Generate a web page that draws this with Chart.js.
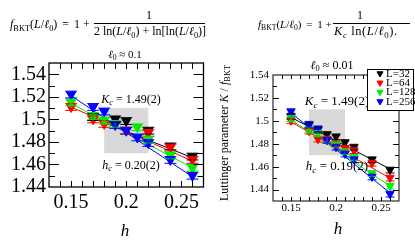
<!DOCTYPE html>
<html>
<head>
<meta charset="utf-8">
<script src="https://cdn.jsdelivr.net/npm/chart.js@4.4.0/dist/chart.umd.min.js"></script>
<style>
  body { margin: 0; background: #fff; width: 415px; height: 243px; overflow: hidden; position: relative; font-family: "Liberation Serif", serif; }
  canvas { position: absolute; top: 0; }
  #cl { left: 0; }
  #cr { left: 210px; }
  .t { position: absolute; white-space: nowrap; font-size: 12px; line-height: 1; transform: translate(-50%, -50%); }
  .l { transform: translate(0, -50%); }
  .bar { position: absolute; height: 0; border-top: 0.8px solid #000; }
  sub { font-size: 70%; vertical-align: -0.35em; line-height: 0; }
  .sp { display: inline-block; width: 2px; }
</style>
</head>
<body>
<canvas id="cl" width="210" height="243"></canvas>
<canvas id="cr" width="205" height="243"></canvas>

<div class="t l" style="left:10px;top:24px"><i>f</i><sub>BKT</sub>(<i>L</i>/<i>ℓ</i><sub>0</sub>)<span class="sp"></span> = <span class="sp"></span>1 +</div>
<div class="t" style="left:149px;top:15px">1</div>
<div class="bar" style="left:94px;top:23px;width:111px"></div>
<div class="t" style="left:150px;top:31px">2 ln(<i>L</i>/<i>ℓ</i><sub>0</sub>) + ln[ln(<i>L</i>/<i>ℓ</i><sub>0</sub>)]</div>

<div class="t l" style="left:258px;top:24px;font-size:11px"><i>f</i><sub>BKT</sub>(<i>L</i>/<i>ℓ</i><sub>0</sub>)<span class="sp"></span> = <span class="sp"></span>1 +</div>
<div class="t" style="left:360px;top:15px">1</div>
<div class="bar" style="left:333px;top:23px;width:77px"></div>
<div class="t l" style="left:334px;top:31px;font-size:12.5px;letter-spacing:0.6px"><i>K</i><sub><i>c</i></sub> ln(<i>L</i>/<i>ℓ</i><sub>0</sub>).</div>

<script>
// series
const SERIES = ["L=32", "L=64", "L=128", "L=256"];
const COLORS = ["#000000", "#ff0000", "#00ee00", "#0000ff"];

// left panel, l0 ~ 0.1
const leftH32 = [0.17, 0.19, 0.2, 0.22, 0.24, 0.26];
const leftK32 = [1.502, 1.500, 1.4985, 1.490, 1.476, 1.467];
const leftH64 = [0.15, 0.17, 0.18, 0.2, 0.22, 0.24, 0.26];
const leftK64 = [1.511, 1.500, 1.496, 1.490, 1.488, 1.475, 1.464];
const leftH128 = [0.15, 0.17, 0.18, 0.19, 0.21, 0.22, 0.24, 0.26];
const leftK128 = [1.515, 1.503, 1.499, 1.496, 1.493, 1.482, 1.468, 1.457];
const leftH256 = [0.15, 0.17, 0.18, 0.19, 0.2, 0.21, 0.22, 0.24, 0.26];
const leftK256 = [1.522, 1.511, 1.507, 1.495, 1.490, 1.484, 1.479, 1.464, 1.450];
// fit lines (start h, end h) and (start K, end K)
const leftFitH = [[0.165, 0.26], [0.15, 0.26], [0.15, 0.26], [0.15, 0.26]];
const leftFitK = [[1.503, 1.466], [1.511, 1.463], [1.514, 1.457], [1.521, 1.449]];

// right panel, l0 ~ 0.01
const rightH = [0.15, 0.17, 0.18, 0.19, 0.2, 0.21, 0.22, 0.24, 0.26];
const rightK32 = [1.504, 1.496, 1.492, 1.488, 1.486, 1.481, 1.477, 1.466, 1.457];
const rightK64 = [1.500, 1.491, 1.484, 1.484, 1.480, 1.476, 1.474, 1.463, 1.450];
const rightK128 = [1.502, 1.492, 1.489, 1.483, 1.479, 1.473, 1.468, 1.454, 1.443];
const rightK256 = [1.508, 1.497, 1.493, 1.483, 1.477, 1.471, 1.466, 1.451, 1.436];
const rightFitH = [[0.15, 0.26], [0.15, 0.26], [0.15, 0.26], [0.15, 0.26]];
const rightFitK = [[1.503, 1.458], [1.499, 1.450], [1.501, 1.443], [1.507, 1.437]];

// ticks
const xTicks = [0.15, 0.2, 0.25];
const xLabels = ["0.15", "0.2", "0.25"];
const yTicks = [1.44, 1.46, 1.48, 1.5, 1.52, 1.54];
const yLabels = ["1.44", "1.46", "1.48", "1.5", "1.52", "1.54"];

const FONT = '"Liberation Serif", serif';

// draw text made of runs: [text, style] style: "" roman, "i" italic, "s" sub roman, "si" sub italic
function drawRuns(ctx, parts, x, y, size, align) {
  const fontOf = st => (st.includes("i") ? "italic " : "") + (st.includes("s") ? size * 0.7 : size) + "px " + FONT;
  let w = 0;
  parts.forEach(([t, st]) => { ctx.font = fontOf(st); w += ctx.measureText(t).width; });
  let cx = align === "center" ? x - w / 2 : align === "right" ? x - w : x;
  ctx.textAlign = "left";
  ctx.textBaseline = "middle";
  parts.forEach(([t, st]) => {
    ctx.font = fontOf(st);
    ctx.fillText(t, cx, st.includes("s") ? y + size * 0.25 : y);
    cx += ctx.measureText(t).width;
  });
}

function downTri(ctx, x, y, r, color) {
  ctx.beginPath();
  ctx.moveTo(x, y + r);
  ctx.lineTo(x - r * 0.87, y - r * 0.5);
  ctx.lineTo(x + r * 0.87, y - r * 0.5);
  ctx.closePath();
  ctx.fillStyle = color;
  ctx.strokeStyle = color;
  ctx.fill();
  ctx.stroke();
}

function panelPlugin(p) {
  return {
    id: "panel",
    beforeDatasetsDraw(chart) {
      const { ctx, scales: { x, y } } = chart;
      const x0 = x.getPixelForValue(p.box[0]), x1 = x.getPixelForValue(p.box[1]);
      const y0 = y.getPixelForValue(p.box[3]), y1 = y.getPixelForValue(p.box[2]);
      ctx.save();
      ctx.fillStyle = "#d9d9d9";
      ctx.fillRect(x0, y0, x1 - x0, y1 - y0);
      ctx.restore();
    },
    afterDatasetsDraw(chart) {
      const { ctx, chartArea: a, scales: { x, y } } = chart;
      ctx.save();
      // error bars
      chart.data.datasets.forEach((ds, i) => {
        if (!ds.isData) return;
        const meta = chart.getDatasetMeta(i);
        ctx.strokeStyle = ds.borderColor;
        ctx.lineWidth = 1;
        meta.data.forEach((el, j) => {
          const v = ds.data[j].y;
          const yt = y.getPixelForValue(v + p.err), yb = y.getPixelForValue(v - p.err);
          ctx.beginPath();
          ctx.moveTo(el.x, yt); ctx.lineTo(el.x, yb);
          ctx.moveTo(el.x - p.cap, yt); ctx.lineTo(el.x + p.cap, yt);
          ctx.moveTo(el.x - p.cap, yb); ctx.lineTo(el.x + p.cap, yb);
          ctx.stroke();
        });
      });
      // frame
      ctx.strokeStyle = "#000";
      ctx.lineWidth = p.frameW;
      ctx.strokeRect(a.left, a.top, a.right - a.left, a.bottom - a.top);
      // ticks, inward on all sides
      ctx.lineWidth = 1;
      ctx.beginPath();
      for (let v = x.min + 0.01; v < x.max - 0.001; v += 0.01) {
        const px = Math.round(x.getPixelForValue(v)) + 0.5;
        ctx.moveTo(px, a.bottom); ctx.lineTo(px, a.bottom - p.tx);
        ctx.moveTo(px, a.top); ctx.lineTo(px, a.top + p.tx);
      }
      for (let v = Math.ceil(y.min * 100 + 0.01) / 100; v < y.max - 0.001; v += 0.01) {
        const py = Math.round(y.getPixelForValue(v)) + 0.5;
        const major = yTicks.some(t => Math.abs(t - v) < 0.001);
        const len = major ? p.tyMaj : p.tyMin;
        ctx.moveTo(a.left, py); ctx.lineTo(a.left + len, py);
        ctx.moveTo(a.right, py); ctx.lineTo(a.right - len, py);
      }
      ctx.stroke();
      // tick labels
      ctx.fillStyle = "#000";
      ctx.font = p.tickFont + "px " + FONT;
      ctx.textBaseline = "middle";
      ctx.textAlign = "center";
      xTicks.forEach((t, i) => ctx.fillText(xLabels[i], x.getPixelForValue(t), a.bottom + p.xLabOff));
      ctx.textAlign = "right";
      yTicks.forEach((t, i) => ctx.fillText(yLabels[i], a.left - p.yLabOff, y.getPixelForValue(t)));
      // titles and notes
      drawRuns(ctx, [["ℓ", "i"], ["0", "s"], [" ≈ " + p.l0, ""]], p.titleX, p.titleY, p.noteFont - 1, "center");
      drawRuns(ctx, [["K", "i"], ["c", "si"], [" = " + p.kc, ""]], p.noteX, p.kcY, p.noteFont, "center");
      drawRuns(ctx, [["h", "i"], ["c", "si"], [" = " + p.hc, ""]], p.noteX, p.hcY, p.noteFont, "center");
      drawRuns(ctx, [["h", "i"]], p.hX, p.hY, 17, "center");
      if (p.yTitle) {
        ctx.translate(p.yTitle.x, p.yTitle.y);
        ctx.rotate(-Math.PI / 2);
        drawRuns(ctx, [["Luttinger parameter ", ""], ["K", "i"], [" / ", ""], ["f", "i"], ["BKT", "s"]], 0, 0, 12, "left");
        ctx.setTransform(1, 0, 0, 1, 0, 0);
      }
      if (p.legend) {
        const L = p.legend;
        ctx.fillStyle = "#fff";
        ctx.fillRect(L.x, L.y, L.w, L.h);
        ctx.strokeStyle = "#000";
        ctx.lineWidth = 1;
        ctx.strokeRect(L.x + 0.5, L.y + 0.5, L.w, L.h);
        SERIES.forEach((s, i) => {
          const ly = L.y + 4.5 + i * 9.3;
          downTri(ctx, L.x + 13, ly, 3.5, COLORS[i]);
          ctx.fillStyle = "#000";
          ctx.font = "11px " + FONT;
          ctx.textAlign = "left";
          ctx.textBaseline = "middle";
          ctx.fillText(s, L.x + 19, ly + 0.5);
        });
      }
      ctx.restore();
    }
  };
}

function makePanel(id, hs, ks, fitH, fitK, pad, yRange, p) {
  const datasets = [];
  SERIES.forEach((s, i) => {
    datasets.push({
      type: "line", label: s + " fit",
      data: fitH[i].map((h, j) => ({ x: h, y: fitK[i][j] })),
      borderColor: COLORS[i], borderWidth: 1, pointRadius: 0, order: 20 + (3 - i)
    });
    datasets.push({
      type: "scatter", label: s, isData: true,
      data: hs[i].map((h, j) => ({ x: h, y: ks[i][j] })),
      pointStyle: "triangle", rotation: 180, radius: p.r,
      backgroundColor: COLORS[i], borderColor: COLORS[i], borderWidth: 1, order: 10 + (3 - i)
    });
  });
  new Chart(document.getElementById(id), {
    data: { datasets },
    options: {
      responsive: false, animation: false,
      layout: { padding: pad },
      scales: {
        x: { type: "linear", min: 0.13, max: 0.27, display: false },
        y: { type: "linear", min: yRange[0], max: yRange[1], display: false }
      },
      plugins: { legend: { display: false }, tooltip: { enabled: false } }
    },
    plugins: [panelPlugin(p)]
  });
}

makePanel("cl",
  [leftH32, leftH64, leftH128, leftH256],
  [leftK32, leftK64, leftK128, leftK256],
  leftFitH, leftFitK,
  { left: 49, right: 5, top: 63, bottom: 56 }, [1.44, 1.55],
  { box: [0.18, 0.22, 1.47, 1.51], err: 0.003, cap: 6, r: 5.5, frameW: 1.3,
    tx: 6, tyMaj: 10, tyMin: 6, tickFont: 20, xLabOff: 16, yLabOff: 3,
    l0: "0.1", kc: "1.49(2)", hc: "0.20(2)", titleX: 125, titleY: 55,
    noteX: 131, kcY: 100, hcY: 166, noteFont: 12, hX: 125, hY: 232 });

makePanel("cr",
  [rightH, rightH, rightH, rightH],
  [rightK32, rightK64, rightK128, rightK256],
  rightFitH, rightFitK,
  { left: 63, right: 16, top: 75, bottom: 42 }, [1.43, 1.54],
  { box: [0.17, 0.21, 1.47, 1.51], err: 0.0025, cap: 4.5, r: 4.5, frameW: 1,
    tx: 4, tyMaj: 6, tyMin: 4, tickFont: 11, xLabOff: 7, yLabOff: 4,
    l0: "0.01", kc: "1.49(2)", hc: "0.19(2)", titleX: 122, titleY: 66,
    noteX: 127, kcY: 102, hcY: 167, noteFont: 13, hX: 128, hY: 230,
    yTitle: { x: 15, y: 201 },
    legend: { x: 157, y: 69, w: 46, h: 41 } });
</script>
</body>
</html>
